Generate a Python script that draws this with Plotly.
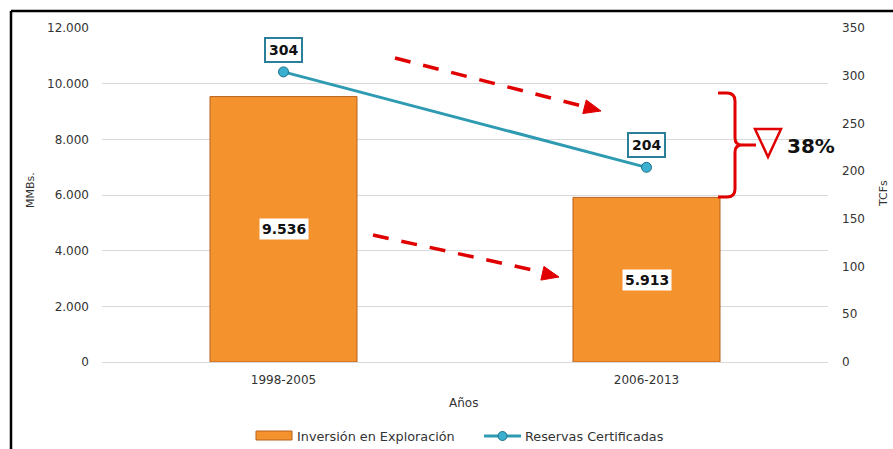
import math
import plotly.graph_objects as go

# ---- data ----
categories = ["1998-2005", "2006-2013"]
inversion = [9536, 5913]          # MMBs.
reservas = [304, 204]             # TCFs
inversion_labels = ["9.536", "5.913"]
reservas_labels = ["304", "204"]
series_names = ["Inversión en Exploración", "Reservas Certificadas"]
left_ticks = [0, 2000, 4000, 6000, 8000, 10000, 12000]
right_ticks = [0, 50, 100, 150, 200, 250, 300, 350]

W, H = 893, 449
L, R, T, B = 102, 828, 28, 362  # plot area in pixels

FONT = "'DejaVu Sans', sans-serif"
TXT = "#333333"
BAR = "#F4922E"
BAR_LINE = "#B8621E"
LINE = "#2E9BB3"
RED = "#E00000"


def px(x):
    return (x - L) / (R - L)


def py(y):
    return (B - y) / (B - T)


def P(a, b):
    return f"{px(a):.5f},{py(b):.5f}"


fig = go.Figure()

fig.add_trace(go.Bar(
    x=categories, y=inversion, name=series_names[0],
    width=0.405,
    marker=dict(color=BAR, line=dict(color=BAR_LINE, width=1)),
    yaxis="y", showlegend=False,
))

fig.add_trace(go.Scatter(
    x=categories, y=reservas, name=series_names[1],
    mode="lines+markers",
    line=dict(color=LINE, width=3),
    marker=dict(size=10, color="#3AAFD0", line=dict(color="#1F7189", width=1)),
    yaxis="y2", showlegend=False,
))

annotations = []
for c, v, t in zip(categories, inversion, inversion_labels):
    annotations.append(dict(
        x=c, y=v / 2, xref="x", yref="y", text="<b>" + t + "</b>", showarrow=False,
        font=dict(family=FONT, size=14, color="#111111"),
        bgcolor="white", borderpad=2,
    ))
for c, v, t in zip(categories, reservas, reservas_labels):
    annotations.append(dict(
        x=c, y=v, xref="x", yref="y2", text="<b>" + t + "</b>", showarrow=False,
        yshift=22,
        font=dict(family=FONT, size=14, color="#111111"),
        bgcolor="white", bordercolor="#2C7F98", borderwidth=2, borderpad=3,
    ))


def note(x, y, text, size, color=TXT, xanchor="center", angle=0):
    return dict(x=px(x), y=py(y), xref="paper", yref="paper", text=text,
                textangle=angle, xanchor=xanchor, yanchor="middle",
                showarrow=False, font=dict(family=FONT, size=size, color=color))


annotations += [
    note(30, 190, "MMBs.", 11, angle=-90),
    note(884, 193, "TCFs", 11, angle=-90),
    note(463, 403, "Años", 12),
    note(785, 146, "<b>38%</b>", 20, color="#111111", xanchor="left"),
    note(295, 436, series_names[0], 12.8, xanchor="left"),
    note(523, 436, series_names[1], 12.8, xanchor="left"),
]

shapes = []
# dashed arrows
for (x0, y0, x1, y1, tx, ty) in [(395, 58, 582, 106, 601, 111), (373, 235, 542, 272, 559, 277)]:
    shapes.append(dict(type="line", xref="paper", yref="paper",
                       x0=px(x0), y0=py(y0), x1=px(x1), y1=py(y1),
                       line=dict(color=RED, width=3.5, dash="16px,13px")))
    dx, dy = tx - x0, ty - y0
    n = math.hypot(dx, dy)
    ux, uy = dx / n, dy / n
    bx, by = tx - ux * 17, ty - uy * 17
    hx, hy = -uy * 7, ux * 7
    pts = [(tx, ty), (bx + hx, by + hy), (bx - hx, by - hy)]
    path = "M " + " L ".join(P(a, b) for a, b in pts) + " Z"
    shapes.append(dict(type="path", xref="paper", yref="paper", path=path,
                       fillcolor=RED, line=dict(color=RED, width=1)))

# bracket
bracket = (f"M {P(718, 93)} L {P(727, 93)} Q {P(735, 93)} {P(735, 101)} "
           f"L {P(735, 138)} Q {P(735, 145)} {P(742, 145)} L {P(756, 145)} "
           f"M {P(742, 145)} Q {P(735, 145)} {P(735, 152)} "
           f"L {P(735, 189)} Q {P(735, 197)} {P(727, 197)} L {P(718, 197)}")
shapes.append(dict(type="path", xref="paper", yref="paper", path=bracket,
                   line=dict(color=RED, width=3)))
# triangle
tri = f"M {P(755, 129)} L {P(781, 129)} L {P(768, 157)} Z"
shapes.append(dict(type="path", xref="paper", yref="paper", path=tri,
                   line=dict(color=RED, width=2.5), fillcolor="rgba(0,0,0,0)"))

# legend symbols
shapes.append(dict(type="rect", xref="paper", yref="paper",
                   x0=px(256), x1=px(292), y0=py(440), y1=py(431),
                   fillcolor=BAR, line=dict(color=BAR_LINE, width=1)))
shapes.append(dict(type="line", xref="paper", yref="paper",
                   x0=px(484), x1=px(521), y0=py(436), y1=py(436),
                   line=dict(color=LINE, width=3)))
shapes.append(dict(type="circle", xref="paper", yref="paper",
                   x0=px(498), x1=px(507), y0=py(440.5), y1=py(431.5),
                   fillcolor="#3AAFD0", line=dict(color="#1F7189", width=1)))

# outer frame (top & left)
shapes.append(dict(type="line", xref="paper", yref="paper", x0=px(11), x1=px(900),
                   y0=py(11), y1=py(11), line=dict(color="black", width=2.5)))
shapes.append(dict(type="line", xref="paper", yref="paper", x0=px(11), x1=px(11),
                   y0=py(11), y1=py(460), line=dict(color="black", width=2.5)))

fig.update_layout(
    width=W, height=H,
    margin=dict(l=L, r=W - R, t=T, b=H - B, autoexpand=False),
    paper_bgcolor="white", plot_bgcolor="white",
    separators=",.",
    font=dict(family=FONT, size=12, color=TXT),
    showlegend=False,
    xaxis=dict(type="category", showgrid=False, showline=True, linecolor="#D9D9D9",
               linewidth=1, ticks="", tickfont=dict(size=12, color=TXT),
               ticklabelstandoff=7, automargin=False),
    yaxis=dict(range=[0, 12000], tickvals=left_ticks, tickformat=",.0f",
               showgrid=True, gridcolor="#D9D9D9", gridwidth=1, zeroline=False,
               showline=False, ticks="", tickfont=dict(size=12, color=TXT),
               ticklabelstandoff=12, automargin=False),
    yaxis2=dict(range=[0, 350], tickvals=right_ticks, overlaying="y", side="right",
                showgrid=False, zeroline=False, showline=False, ticks="",
                tickfont=dict(size=12, color=TXT), ticklabelstandoff=13, automargin=False),
    annotations=annotations,
    shapes=shapes,
)

fig.write_html("out.html")
